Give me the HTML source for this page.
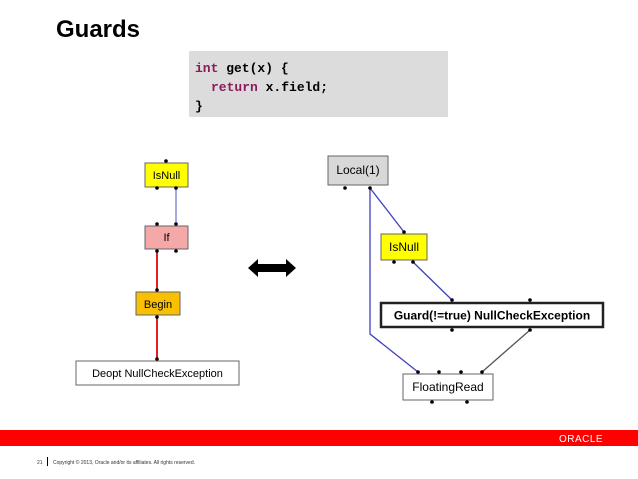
<!DOCTYPE html>
<html><head><style>
body{margin:0;width:638px;height:479px;background:#fff;overflow:hidden}
svg{display:block}
text{font-family:"Liberation Sans",sans-serif}
text.m{font-family:"Liberation Mono",monospace;font-size:13px;font-weight:bold}
</style></head><body>
<svg width="638" height="479" viewBox="0 0 638 479">
<text x="56" y="37" font-size="24" font-weight="bold" fill="#000">Guards</text>
<rect x="189" y="51" width="259" height="66" fill="#dcdcdc"/>
<text class="m" x="195" y="72"><tspan fill="#8b1a5a">int</tspan> get(x) {</text>
<text class="m" x="211" y="91"><tspan fill="#8b1a5a">return</tspan> x.field;</text>
<text class="m" x="195" y="110">}</text>
<!-- left graph -->
<line x1="176" y1="188" x2="176" y2="224" stroke="#5050c0" stroke-width="1"/>
<line x1="157" y1="250" x2="157" y2="290" stroke="#e02020" stroke-width="2"/>
<line x1="157" y1="317" x2="157" y2="359" stroke="#e02020" stroke-width="2"/>
<rect x="145" y="163" width="43" height="24" fill="#ffff00" stroke="#666"/>
<text x="166.5" y="179" font-size="11" text-anchor="middle">IsNull</text>
<rect x="145" y="226" width="43" height="23" fill="#f4a8a8" stroke="#666"/>
<text x="166.5" y="241" font-size="11" text-anchor="middle">If</text>
<rect x="136" y="292" width="44" height="23" fill="#f8c000" stroke="#666"/>
<text x="158" y="308" font-size="11" text-anchor="middle">Begin</text>
<rect x="76" y="361" width="163" height="24" fill="#fff" stroke="#666"/>
<text x="157.5" y="377" font-size="11" text-anchor="middle">Deopt NullCheckException</text>
<g fill="#000">
<circle cx="166" cy="161" r="1.8"/><circle cx="157" cy="188" r="1.8"/><circle cx="176" cy="188" r="1.8"/>
<circle cx="157" cy="224" r="1.8"/><circle cx="176" cy="224" r="1.8"/><circle cx="157" cy="251" r="1.8"/><circle cx="176" cy="251" r="1.8"/>
<circle cx="157" cy="290" r="1.8"/><circle cx="157" cy="317" r="1.8"/><circle cx="157" cy="359" r="1.8"/>
</g>
<!-- double arrow -->
<polygon points="248,268 258,259 258,264 286,264 286,259 296,268 286,277 286,272 258,272 258,277" fill="#000"/>
<!-- right graph -->
<polyline points="370,188 404,232" fill="none" stroke="#4040c0" stroke-width="1.3"/>
<polyline points="370,188 370,334 418,372" fill="none" stroke="#4040c0" stroke-width="1.3"/>
<polyline points="413,262 452,300" fill="none" stroke="#4040c0" stroke-width="1.3"/>
<polyline points="530,330 482,372" fill="none" stroke="#555" stroke-width="1.3"/>
<rect x="328" y="156" width="60" height="29" fill="#d8d8d8" stroke="#666"/>
<text x="358" y="174" font-size="12" text-anchor="middle">Local(1)</text>
<rect x="381" y="234" width="46" height="26" fill="#ffff00" stroke="#666"/>
<text x="404" y="251" font-size="12" text-anchor="middle">IsNull</text>
<rect x="381" y="303" width="222" height="24" fill="#fff" stroke="#222" stroke-width="2.5"/>
<text x="492" y="319.5" font-size="12" font-weight="bold" text-anchor="middle">Guard(!=true) NullCheckException</text>
<rect x="403" y="374" width="90" height="26" fill="#fff" stroke="#666"/>
<text x="448" y="391" font-size="12" text-anchor="middle">FloatingRead</text>
<g fill="#000">
<circle cx="345" cy="188" r="1.8"/><circle cx="370" cy="188" r="1.8"/>
<circle cx="404" cy="232" r="1.8"/><circle cx="394" cy="262" r="1.8"/><circle cx="413" cy="262" r="1.8"/>
<circle cx="452" cy="300" r="1.8"/><circle cx="530" cy="300" r="1.8"/><circle cx="452" cy="330" r="1.8"/><circle cx="530" cy="330" r="1.8"/>
<circle cx="418" cy="372" r="1.8"/><circle cx="439" cy="372" r="1.8"/><circle cx="461" cy="372" r="1.8"/><circle cx="482" cy="372" r="1.8"/>
<circle cx="432" cy="402" r="1.8"/><circle cx="467" cy="402" r="1.8"/>
</g>
<!-- footer -->
<rect x="0" y="430" width="638" height="16" fill="#ff0000"/>
<text x="581" y="442" font-size="10" fill="#fff" text-anchor="middle" letter-spacing="0.5">ORACLE</text>
<text x="37" y="464" font-size="5" fill="#333">21</text>
<rect x="47" y="457" width="1" height="9" fill="#000"/>
<text x="53" y="464" font-size="5" fill="#333">Copyright © 2013, Oracle and/or its affiliates. All rights reserved.</text>
</svg>
</body></html>
